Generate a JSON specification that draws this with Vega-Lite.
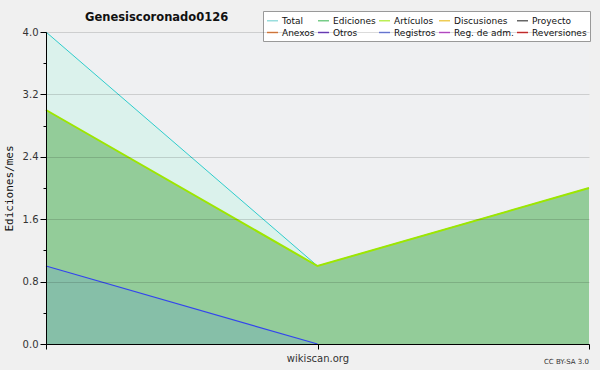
{
  "$schema": "https://vega.github.io/schema/vega-lite/v6.json",
  "width": 543,
  "height": 312,
  "autosize": "none",
  "padding": {"left": 46, "top": 32, "right": 11, "bottom": 26},
  "background": "#f0f0f0",
  "config": {"view": {"fill": "#eff0f2", "stroke": null}, "font": "DejaVu Sans"},
  "title": {"text": "Genesiscoronado0126", "anchor": "start", "frame": "group", "dx": 39, "dy": 13, "offset": 0, "fontSize": 11.5, "fontWeight": "bold", "color": "#111111", "font": "DejaVu Sans"},
  "datasets": {
    "series": [
      {"serie": "Total", "mes": 0, "valor": 4},
      {"serie": "Total", "mes": 1, "valor": 1},
      {"serie": "Total", "mes": 2, "valor": 2},
      {"serie": "Artículos", "mes": 0, "valor": 3},
      {"serie": "Artículos", "mes": 1, "valor": 1},
      {"serie": "Artículos", "mes": 2, "valor": 2},
      {"serie": "Registros", "mes": 0, "valor": 1},
      {"serie": "Registros", "mes": 1, "valor": 0}
    ],
    "leyenda": [
      {"serie": "Total", "mes": 0, "valor": 0},
      {"serie": "Ediciones", "mes": 0, "valor": 0},
      {"serie": "Artículos", "mes": 0, "valor": 0},
      {"serie": "Discusiones", "mes": 0, "valor": 0},
      {"serie": "Proyecto", "mes": 0, "valor": 0},
      {"serie": "Anexos", "mes": 0, "valor": 0},
      {"serie": "Otros", "mes": 0, "valor": 0},
      {"serie": "Registros", "mes": 0, "valor": 0},
      {"serie": "Reg. de adm.", "mes": 0, "valor": 0},
      {"serie": "Reversiones", "mes": 0, "valor": 0}
    ],
    "credito": [{"texto": "CC BY-SA 3.0", "mes": 2, "valor": 0}]
  },
  "encoding": {
    "x": {
      "field": "mes", "type": "quantitative",
      "scale": {"domain": [0, 2], "nice": false, "zero": false},
      "axis": {"title": "wikiscan.org", "values": [0, 1, 2], "labels": false, "tickSize": 5, "grid": false, "domainColor": "#000000", "tickColor": "#000000", "titleFontSize": 10, "titleFontWeight": "normal", "titleColor": "#333333", "titlePadding": 4, "zindex": 1}
    },
    "y": {
      "field": "valor", "type": "quantitative",
      "scale": {"domain": [0, 4], "nice": false},
      "axis": {
        "title": "Ediciones/mes", "titleFont": "DejaVu Sans Mono", "titleFontSize": 11, "titleFontWeight": "normal", "titleColor": "#111111", "titlePadding": 8,
        "values": [0, 0.4, 0.8, 1.2, 1.6, 2.0, 2.4, 2.8, 3.2, 3.6, 4.0],
        "format": ".1f",
        "labelExpr": "round(datum.value / 0.4) % 2 == 0 ? datum.label : ''",
        "tickSize": {"condition": {"test": "round(datum.value / 0.4) % 2 == 0", "value": 6}, "value": 3},
        "grid": true, "gridColor": "#000000",
        "gridOpacity": {"condition": {"test": "round(datum.value / 0.4) % 2 == 0", "value": 0.14}, "value": 0},
        "domainColor": "#000000", "tickColor": "#000000", "labelFontSize": 10, "labelColor": "#333333", "labelPadding": 2, "zindex": 1
      }
    }
  },
  "layer": [
    {"data": {"name": "series"}, "transform": [{"filter": "datum.serie === 'Total'"}], "mark": {"type": "area", "color": "#dbf2ec"}},
    {"data": {"name": "series"}, "transform": [{"filter": "datum.serie === 'Total'"}], "mark": {"type": "line", "color": "#2fcccc", "strokeWidth": 1}},
    {"data": {"name": "series"}, "transform": [{"filter": "datum.serie === 'Artículos'"}], "mark": {"type": "area", "color": "#93cc99"}},
    {"data": {"name": "series"}, "transform": [{"filter": "datum.serie === 'Artículos'"}], "mark": {"type": "line", "color": "#9de600", "strokeWidth": 2}},
    {"data": {"name": "series"}, "transform": [{"filter": "datum.serie === 'Registros'"}], "mark": {"type": "area", "color": "#86bfa8"}},
    {"data": {"name": "series"}, "transform": [{"filter": "datum.serie === 'Registros'"}], "mark": {"type": "line", "color": "#3344ee", "strokeWidth": 1.2}},
    {
      "data": {"name": "leyenda"},
      "mark": {"type": "point", "opacity": 0},
      "encoding": {
        "color": {
          "field": "serie", "type": "nominal",
          "scale": {
            "domain": ["Total", "Ediciones", "Artículos", "Discusiones", "Proyecto", "Anexos", "Otros", "Registros", "Reg. de adm.", "Reversiones"],
            "range": ["#99dddd", "#77cc88", "#bbee55", "#eecc55", "#666666", "#ee8844", "#7744cc", "#7788ee", "#cc55dd", "#dd3333"]
          },
          "legend": {
            "title": null, "orient": "none", "legendX": 217, "legendY": -21, "columns": 5, "direction": "horizontal", "gridAlign": "each",
            "symbolType": "stroke", "symbolSize": 121, "symbolStrokeWidth": 1.5, "symbolOpacity": 1,
            "labelFont": "DejaVu Sans", "labelFontSize": 9, "labelColor": "#111111", "labelOffset": 3,
            "columnPadding": 0, "rowPadding": 0, "padding": 3,
            "fillColor": "#ffffff", "strokeColor": "#999999"
          }
        }
      }
    },
    {
      "data": {"name": "credito"},
      "mark": {"type": "text", "align": "right", "baseline": "middle", "dy": 18, "fontSize": 7, "color": "#333333"},
      "encoding": {"text": {"field": "texto"}}
    }
  ]
}
